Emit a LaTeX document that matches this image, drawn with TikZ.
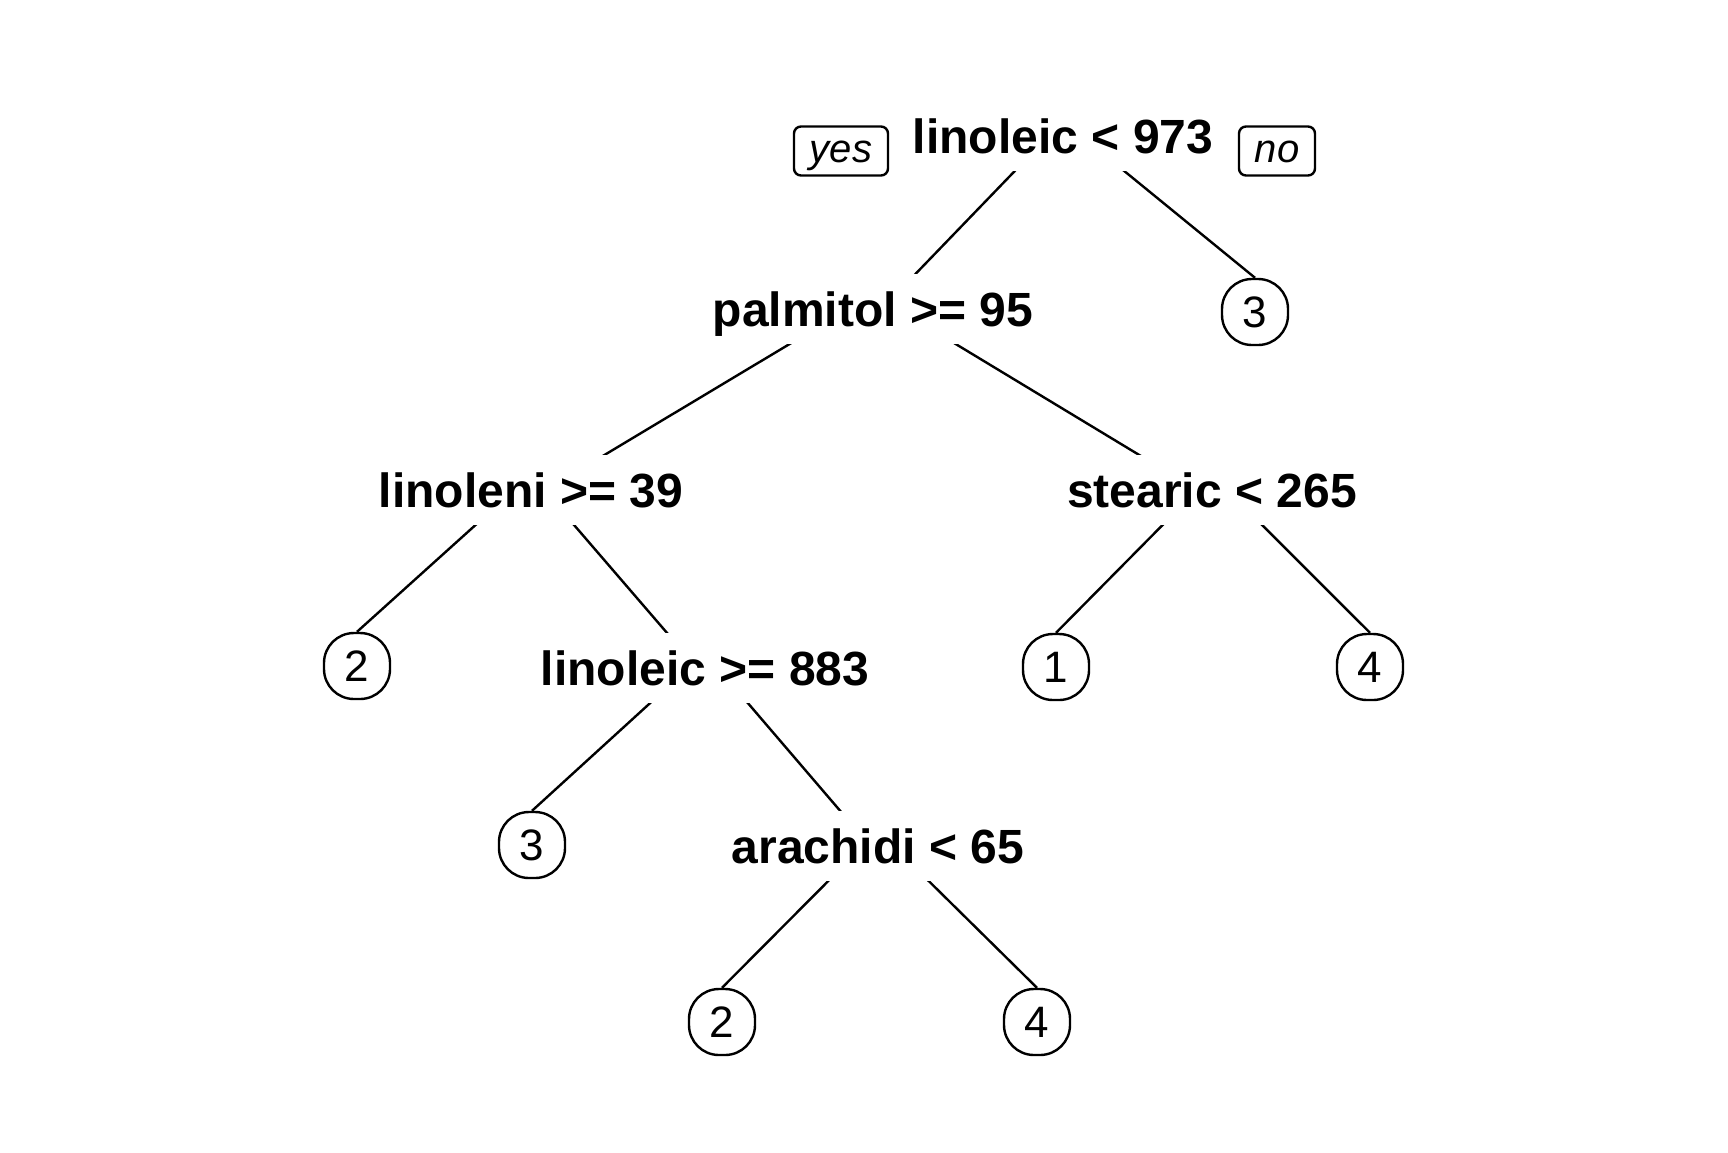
\documentclass[tikz,border=0pt]{standalone}
\usepackage{fontspec}
\setmainfont{Liberation Sans}
\usetikzlibrary{positioning,calc}
\pgfdeclarelayer{background}
\pgfsetlayers{background,main}

\begin{document}
\begin{tikzpicture}[x=0.5pt, y=-0.5pt,
    split/.style={fill=white, inner xsep=2pt, inner ysep=9pt, text height=17.3pt, text depth=0pt,
        font=\fontsize{24}{25}\selectfont\bfseries},
    leaf/.style={draw, fill=white, line width=1.2pt, rounded corners=15pt, minimum size=33pt,
        inner sep=0pt, text height=15.6pt, text depth=0pt, font=\fontsize{22}{23}\selectfont},
    side/.style={draw, line width=1.2pt, rounded corners=3.5pt, minimum height=24.5pt,
        inner sep=0pt, text height=11pt, text depth=0pt, font=\fontsize{20}{21}\selectfont\itshape},
    branch/.style={line width=1.2pt},
]
\useasboundingbox (0,0) rectangle (1728,1152);

% Root split
\node[split] (root) at (1063,136) {linoleic < 973};
\node[side, minimum width=47pt] (yes) at (841,151) {yes};
\node[side, minimum width=38pt] (no) at (1277,151) {no};

% Inner splits
\node[split] (palm) at (873,309) {palmitol >= 95};
\node[split] (linoleni) at (531,490) {linoleni >= 39};
\node[split] (stearic) at (1212,490) {stearic < 265};
\node[split] (linoleic) at (705,668) {linoleic >= 883};
\node[split] (arachidi) at (878,846) {arachidi < 65};

% Leaves
\node[leaf] (leafA) at (1255,312) {3};
\node[leaf] (leafB) at (357,666) {2};
\node[leaf] (leafC) at (1056,667) {1};
\node[leaf] (leafD) at (1370,667) {4};
\node[leaf] (leafE) at (532,845) {3};
\node[leaf] (leafF) at (722,1022) {2};
\node[leaf] (leafG) at (1037,1022) {4};

% Branches (behind the labels)
\begin{pgfonlayer}{background}
\draw[branch] ([yshift=7.5pt]root.center) -- ([yshift=-4.5pt]palm.center);
\draw[branch] ([yshift=7.5pt]root.center) -- (leafA.north);
\draw[branch] ([yshift=7.5pt]palm.center) -- ([yshift=-4.5pt]linoleni.center);
\draw[branch] ([yshift=7.5pt]palm.center) -- ([yshift=-4.5pt]stearic.center);
\draw[branch] ([yshift=7.5pt]linoleni.center) -- (leafB.north);
\draw[branch] ([yshift=7.5pt]linoleni.center) -- ([yshift=-4.5pt]linoleic.center);
\draw[branch] ([yshift=7.5pt]stearic.center) -- (leafC.north);
\draw[branch] ([yshift=7.5pt]stearic.center) -- (leafD.north);
\draw[branch] ([yshift=7.5pt]linoleic.center) -- (leafE.north);
\draw[branch] ([yshift=7.5pt]linoleic.center) -- ([yshift=-4.5pt]arachidi.center);
\draw[branch] ([yshift=7.5pt]arachidi.center) -- (leafF.north);
\draw[branch] ([yshift=7.5pt]arachidi.center) -- (leafG.north);
\end{pgfonlayer}
\end{tikzpicture}
\end{document}
